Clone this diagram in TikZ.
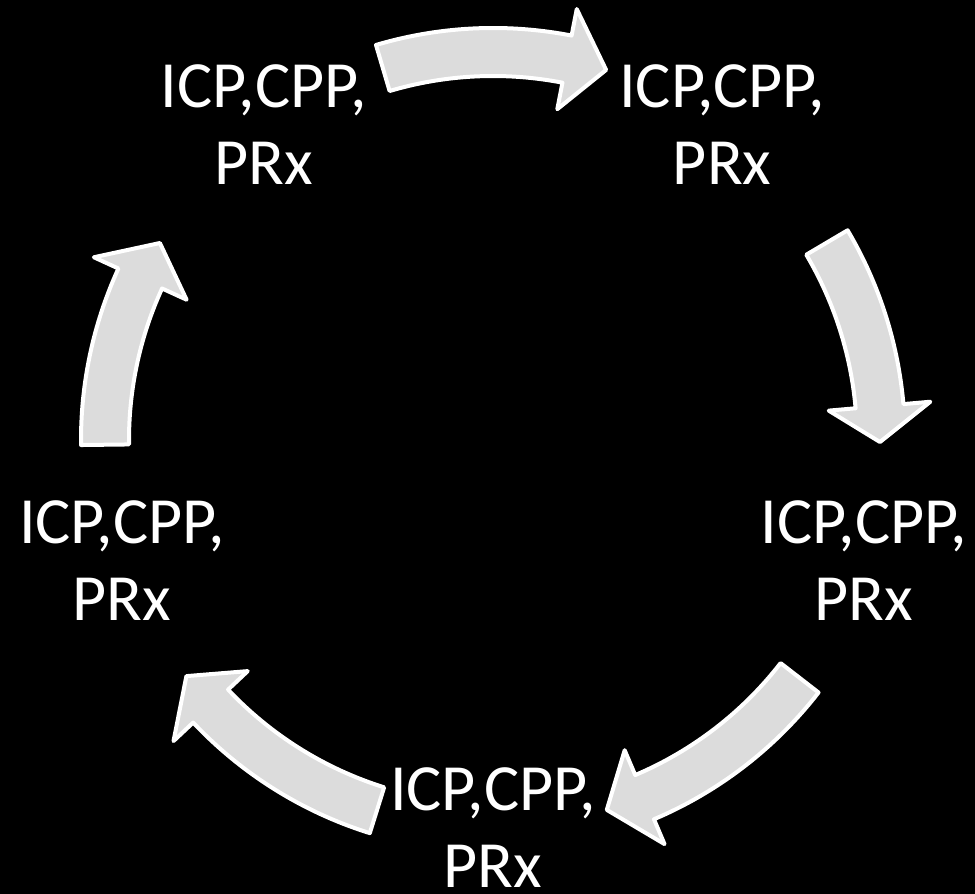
\documentclass[tikz,border=0pt]{standalone}
\usepackage{fontspec}
\setmainfont{Carlito}
\definecolor{arrowgray}{RGB}{220,220,220}
\newcommand\cyclearrow[3]{%
  \draw[cyc] (#1:412) arc[start angle=#1, end angle=#2, radius=412]
    -- (#2:439) -- (#3:387) -- (#2:337) -- (#2:364)
    arc[start angle=#2, end angle=#1, radius=364] -- cycle;}
\begin{document}
\begin{tikzpicture}[x=1pt,y=1pt,
  lbl/.style={text=white, align=center, inner sep=0pt,
    font=\fontsize{66}{77}\selectfont},
  cyc/.style={fill=arrowgray, draw=white, line width=4pt, line join=round}]
\fill[black] (-493,-454) rectangle (482,440);
\useasboundingbox (-493,-454) rectangle (482,440);
% block arrows
\cyclearrow{106.5}{79}{73}
\cyclearrow{30.6}{5}{-0.3}
\cyclearrow{-37.8}{-67}{-72.9}
\cyclearrow{-107.4}{-136.7}{-142.4}
\cyclearrow{180.7}{155.4}{149.4}
% labels
\node[lbl] (tl) at (126:390) {ICP,CPP,\\PRx};
\node[lbl] (tr) at (54:390) {ICP,CPP,\\PRx};
\node[lbl] (r) at (-18:390) {ICP,CPP,\\PRx};
\node[lbl] (b) at (-90:388) {ICP,CPP,\\PRx};
\node[lbl] (l) at (198:390) {ICP,CPP,\\PRx};
\end{tikzpicture}
\end{document}
